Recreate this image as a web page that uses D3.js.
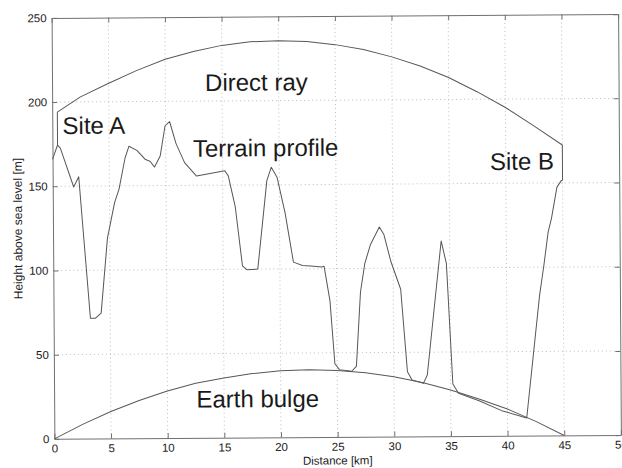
<!DOCTYPE html>
<html>
<head>
<meta charset="utf-8">
<script src="https://cdn.jsdelivr.net/npm/d3@7"></script>
<style>
  html, body { margin: 0; padding: 0; background: #fff; }
  svg { display: block; }
  text { font-family: "Liberation Sans", Arial, Helvetica, sans-serif; fill: #1a1a1a; }
</style>
</head>
<body>
<script>
// Terrain profile along the radio path (distance in km, height in m)
const terrainDist = [0, 0.45, 0.7, 1.85, 2.3, 3.25, 3.7, 4.2, 4.8, 5.45, 5.85, 6.4, 6.75, 7.45, 8.2, 8.6, 9.0, 9.5, 9.95, 10.35,
  10.9, 11.65, 12.7, 15.2, 15.5, 16.1, 16.7, 17.1, 18.05, 18.9, 19.3, 19.8, 20.5, 21.2, 22.0, 23.0, 23.7, 23.9,
  24.4, 24.8, 25.2, 26.3, 26.7, 27.1, 27.5, 28.0, 28.8, 29.2, 29.8, 30.65, 31.2, 31.6, 32.6, 32.95, 34.25, 34.7,
  35.2, 35.7, 37.5, 39.5, 41.7, 42.9, 43.3, 43.7, 44.0, 44.5, 44.9, 45.0];
const terrainHeight = [166, 174.5, 172.5, 149.5, 155.5, 71.5, 71.5, 74.5, 119, 140, 148, 166.5, 173.5, 171, 165.5, 164.5, 161, 167.5, 185.5, 188,
  175, 163.5, 155.5, 158.5, 155.5, 137, 102, 99.6, 100, 152.5, 160.5, 154.5, 133, 104, 102, 101.5, 101, 101.5,
  81, 43.5, 40, 39, 42, 86, 103, 114, 124.5, 120, 104, 87.5, 38.5, 33.5, 31.5, 36.5, 116, 102.5,
  31, 25.5, 21, 15, 10.5, 83, 101, 121, 129, 147.5, 151.5, 151.5];

// Line of sight between the two antennas
const rayDist = [0.45, 2.5, 5, 7.5, 10, 12.5, 15, 17.5, 20, 22.5, 25, 27.5, 30, 32.5, 35, 37.5, 40, 42.5, 45];
const rayHeight = [194, 203, 211, 218.5, 225, 229.5, 233, 235, 235.5, 235, 233, 230, 225.5, 220, 213, 204.5, 195, 184, 172.5];

// Antenna masts: ground level and antenna height at each site
const siteDist = [0.45, 45];
const siteGround = [174.5, 151.5];
const siteAntenna = [194, 172.5];

// Earth bulge relative to the chord between the sites
const bulgeDist = [0, 2.5, 5, 7.5, 10, 12.5, 15, 17.5, 20, 22.5, 25, 27.5, 30, 32.5, 35, 37.5, 40, 42.5, 45];
const bulgeHeight = [0, 8.5, 16, 22.5, 28, 32.5, 35.5, 38, 39.5, 40, 39.5, 38, 35.5, 32, 27.5, 22, 16, 8.5, 0];

// Axes
const distTicks = [0, 5, 10, 15, 20, 25, 30, 35, 40, 45, 50];
const heightTicks = [0, 50, 100, 150, 200, 250];

// Annotations, placed by the start of their baseline (distance, height)
const labelText = ["Direct ray", "Site A", "Terrain profile", "Site B", "Earth bulge"];
const labelDist = [13.5, 0.9, 12.4, 38.6, 12.55];
const labelHeight = [206, 181, 167, 158, 18];

const W = 622, H = 468;
const margin = { top: 16, right: 2.5, bottom: 31, left: 53 };
const iw = W - margin.left - margin.right;
const ih = H - margin.top - margin.bottom;

const svg = d3.select("body").append("svg").attr("width", W).attr("height", H);
svg.append("rect").attr("width", W).attr("height", H).attr("fill", "#fff");

// whole figure sits very slightly tilted, like a scanned page
const root = svg.append("g")
  .attr("transform", `rotate(-0.38, ${margin.left + iw / 2}, ${margin.top + ih / 2})`);
const g = root.append("g").attr("transform", `translate(${margin.left},${margin.top})`);

const x = d3.scaleLinear().domain([0, 50]).range([0, iw]);
const y = d3.scaleLinear().domain([0, 250]).range([ih, 0]);

// dotted grid
const grid = g.append("g").attr("stroke", "#bdbdbd").attr("stroke-width", 1).attr("stroke-dasharray", "1,3");
grid.selectAll("line.v").data(distTicks.filter(d => d > 0 && d < 50)).join("line")
  .attr("class", "v").attr("x1", d => x(d)).attr("x2", d => x(d)).attr("y1", 0).attr("y2", ih);
grid.selectAll("line.h").data(heightTicks.filter(d => d > 0 && d < 250)).join("line")
  .attr("class", "h").attr("x1", 0).attr("x2", iw).attr("y1", d => y(d)).attr("y2", d => y(d));

// axes with inward ticks on all four sides
const axisColor = "#707070";
function styleAxis(sel) {
  sel.selectAll(".domain").attr("stroke", axisColor);
  sel.selectAll(".tick line").attr("stroke", axisColor);
  sel.selectAll(".tick text").attr("fill", "#2a2a2a").style("font-size", "11.5px")
    .style("font-family", '"Liberation Sans", Arial, Helvetica, sans-serif');
}
g.append("g").attr("transform", `translate(0,${ih})`)
  .call(d3.axisBottom(x).tickValues(distTicks).tickSizeInner(-5).tickSizeOuter(0).tickPadding(5.5))
  .call(styleAxis);
g.append("g")
  .call(d3.axisLeft(y).tickValues(heightTicks).tickSizeInner(-5).tickSizeOuter(0).tickPadding(5))
  .call(styleAxis);
g.append("g")
  .call(d3.axisTop(x).tickValues(distTicks).tickSizeInner(-5).tickSizeOuter(0).tickFormat(""))
  .call(styleAxis);
g.append("g").attr("transform", `translate(${iw},0)`)
  .call(d3.axisRight(y).tickValues(heightTicks).tickSizeInner(-5).tickSizeOuter(0).tickFormat(""))
  .call(styleAxis);

// axis titles
g.append("text").attr("x", x(25)).attr("y", ih + 27.5).attr("text-anchor", "middle")
  .style("font-size", "11.5px").attr("fill", "#2a2a2a").text("Distance [km]");
g.append("text").attr("transform", `translate(${-31},${ih / 2}) rotate(-90)`).attr("text-anchor", "middle")
  .style("font-size", "12px").attr("fill", "#2a2a2a").text("Height above sea level [m]");

// curves
const line = d3.line().x(d => x(d[0])).y(d => y(d[1]));
const curveStyle = sel => sel.attr("fill", "none").attr("stroke", "#575757").attr("stroke-width", 1)
  .attr("stroke-linejoin", "round");

const terrain = terrainDist.map((d, i) => [d, terrainHeight[i]]);
g.append("path").datum(terrain).attr("d", line).call(curveStyle);

// direct ray, with the masts at both ends
const ray = [[siteDist[0], siteGround[0]], [siteDist[0], siteAntenna[0]]]
  .concat(rayDist.map((d, i) => [d, rayHeight[i]]))
  .concat([[siteDist[1], siteAntenna[1]], [siteDist[1], siteGround[1]]]);
g.append("path").datum(ray).attr("d", line).call(curveStyle);

const bulge = bulgeDist.map((d, i) => [d, bulgeHeight[i]]);
g.append("path").datum(bulge).attr("d", line).call(curveStyle);

// annotations
g.selectAll("text.note").data(labelText).join("text")
  .attr("class", "note")
  .attr("x", (d, i) => x(labelDist[i]))
  .attr("y", (d, i) => y(labelHeight[i]))
  .style("font-size", "24px")
  .attr("fill", "#111")
  .text(d => d);
</script>
</body>
</html>
